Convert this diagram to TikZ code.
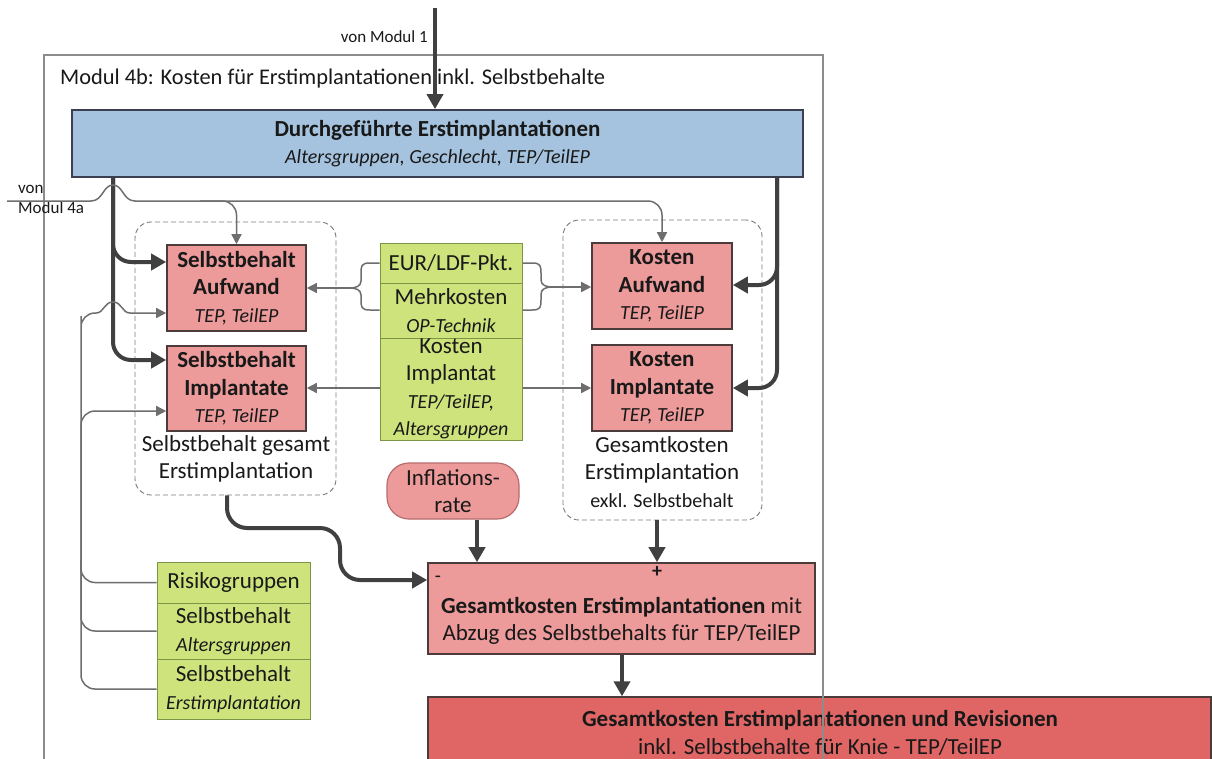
\documentclass[tikz,border=0pt]{standalone}
\usepackage{fontspec}
\setmainfont{Carlito}
\usetikzlibrary{arrows.meta}

\definecolor{boxblue}{HTML}{A5C3DF}
\definecolor{blueedge}{HTML}{3B3F4F}
\definecolor{boxpink}{HTML}{EC9A9A}
\definecolor{pinkedge}{HTML}{4B3B3B}
\definecolor{boxred}{HTML}{E06565}
\definecolor{cellgreen}{HTML}{CFE37C}
\definecolor{greenedge}{HTML}{7C9446}
\definecolor{pilledge}{HTML}{B86C6C}
\definecolor{darkline}{HTML}{404040}
\definecolor{thingray}{HTML}{6E6E6E}
\definecolor{framegray}{HTML}{8C8C8C}
\definecolor{grpgray}{HTML}{7A7A7A}

\newcommand\fsz[2]{\fontsize{#1}{#2}\selectfont}

\begin{document}
\begin{tikzpicture}[x=1pt,y=-1pt,
  every node/.style={inner sep=0pt, text=black!90},
  main/.style={font=\fsz{23}{27.5}, align=center},
  pinkbox/.style={main, draw=pinkedge, line width=1.6pt, fill=boxpink},
  greencell/.style={main, draw=greenedge, line width=1pt, fill=cellgreen},
  grp/.style={draw=grpgray, line width=0.9pt, dash pattern=on 5pt off 3pt, rounded corners=16pt},
  thickarrow/.style={draw=darkline, line width=4pt, -{Triangle[length=15pt,width=16pt]}},
  thinarrow/.style={draw=thingray, line width=1.5pt, -{Triangle[length=10pt,width=10pt]}},
  thinline/.style={draw=thingray, line width=1.5pt}]
\useasboundingbox (0,0) rectangle (1212,758);
\fill[white] (0,0) rectangle (1212,758);

% dashed groups
\node[grp, minimum width=201pt, minimum height=273pt] (grpL) at (235.5,358.5) {};
\node[grp, minimum width=199pt, minimum height=300pt] (grpR) at (662.5,370) {};

% title
\node[anchor=base west, font=\fsz{22.4}{27}] (title) at (60,84)
  {Modul 4b: Kosten für Erstimplantationen inkl. Selbstbehalte};

% input box
\node[main, draw=blueedge, line width=1.8pt, fill=boxblue,
      minimum width=731pt, minimum height=67pt] (durch) at (437.5,143.5)
  {\textbf{Durchgeführte Erstimplantationen}\\{\fsz{20}{27}\itshape Altersgruppen, Geschlecht, TEP/TeilEP}};

% cost components
\node[pinkbox, minimum width=139pt, minimum height=86pt] (sbA) at (236.5,288)
  {\textbf{Selbstbehalt}\\\textbf{Aufwand}\\{\fsz{20}{28}\itshape TEP, TeilEP}};
\node[pinkbox, minimum width=139pt, minimum height=85pt] (sbI) at (236.5,388.5)
  {\textbf{Selbstbehalt}\\\textbf{Implantate}\\{\fsz{20}{28}\itshape TEP, TeilEP}};
\node[pinkbox, minimum width=140pt, minimum height=86pt] (kA) at (662,286)
  {\textbf{Kosten}\\\textbf{Aufwand}\\{\fsz{20}{28}\itshape TEP, TeilEP}};
\node[pinkbox, minimum width=140pt, minimum height=86pt] (kI) at (662,388)
  {\textbf{Kosten}\\\textbf{Implantate}\\{\fsz{20}{28}\itshape TEP, TeilEP}};

% group captions
\node[main] (capL) at (236,459) {Selbstbehalt gesamt\\Erstimplantation};
\node[main] (capR) at (662,472)
  {Gesamtkosten\\Erstimplantation\\{\fsz{20}{26}exkl. Selbstbehalt}};

% price parameters
\node[greencell, minimum width=142pt, minimum height=40pt] (g1) at (451,263) {EUR/LDF-Pkt.};
\node[greencell, minimum width=142pt, minimum height=55pt] (g2) at (451,310.5)
  {Mehrkosten\\{\fsz{20}{28}\itshape OP-Technik}};
\node[greencell, minimum width=142pt, minimum height=102pt] (g3) at (451,389)
  {Kosten\\Implantat\\{\fsz{20}{26}\itshape TEP/TeilEP,}\\{\fsz{20}{26}\itshape Altersgruppen}};

% deductible parameters
\node[greencell, minimum width=153pt, minimum height=41pt] (r1) at (233.5,582.5) {Risikogruppen};
\node[greencell, minimum width=153pt, minimum height=56pt] (r2) at (233.5,631)
  {Selbstbehalt\\{\fsz{20}{28}\itshape Altersgruppen}};
\node[greencell, minimum width=153pt, minimum height=60pt] (r3) at (233.5,689)
  {Selbstbehalt\\{\fsz{20}{28}\itshape Erstimplantation}};

% inflation
\node[main, draw=pilledge, line width=1.2pt, fill=boxpink, rounded corners=22pt,
      minimum width=132pt, minimum height=56pt] (infl) at (453,491) {Inflations-\\rate};

% result boxes
\node[draw=pinkedge, line width=1.6pt, fill=boxpink,
      minimum width=387pt, minimum height=91pt] (gk) at (621.5,608.5) {};
\node[main] (gktxt) at (621.5,621)
  {\textbf{Gesamtkosten Erstimplantationen} mit\\Abzug des Selbstbehalts für TEP/TeilEP};
\node[font=\fsz{20}{24}\bfseries] (plus) at (657,572) {+};
\node[font=\fsz{20}{24}] (minus) at (438,579) {-};

\node[draw=pinkedge, line width=1.4pt, fill=boxred,
      minimum width=783pt, minimum height=90pt] (fin) at (819.5,742) {};
\node[main] (fintxt) at (820,733)
  {\textbf{Gesamtkosten Erstimplantationen und Revisionen}\\inkl. Selbstbehalte für Knie - TEP/TeilEP};

% module frame
\draw[framegray, line width=1.2pt] (44,800) -- (44,55) -- (823,55) -- (823,800);

% external inputs
\coordinate (m1) at (435,8);
\node[anchor=base east, font=\fsz{17}{20}] (lm1) at (428,42) {von Modul 1};
\draw[thickarrow] (m1) -- (durch.north -| m1);

\coordinate (m4a) at (7,201);
\coordinate (j1) at (200,201);
\node[anchor=base west, font=\fsz{17}{20}] (lm4a) at (18,193) {von};
\node[anchor=base west, font=\fsz{17}{20}] (lm4b) at (18,213) {Modul 4a};

% thick flows from the input box
\draw[thickarrow, rounded corners=18pt] (durch.south -| 113,0) |- (sbA.west |- 0,262);
\draw[thickarrow, rounded corners=18pt] (durch.south -| 113,0) |- (sbI.west |- 0,360);
\draw[thickarrow, rounded corners=18pt] (durch.south -| 777,0) |- (kA.east |- 0,285);
\draw[thickarrow, rounded corners=18pt] (durch.south -| 777,0) |- (kI.east |- 0,388);

% line from Modul 4a, hopping over the thick flow
\draw[thinarrow] (m4a) -- (91,201)
  .. controls (103,201) and (103,185) .. (113,185)
  .. controls (123,185) and (123,201) .. (135,201)
  [rounded corners=14pt] -- (662,201) -- (kA.north);
\draw[thinarrow, rounded corners=14pt] (j1) -| (sbA.north);

% price braces
\coordinate (bl) at (350,288);
\coordinate (br) at (552,287);
\draw[thinline] (g1.west) -- (370,263) .. controls (361,263) and (361,266) .. (361,274)
  -- (361,281) .. controls (361,286) and (356,288) .. (bl);
\draw[thinline] (g2.west |- 0,310) -- (370,310) .. controls (361,310) and (361,307) .. (361,299)
  -- (361,295) .. controls (361,290) and (356,288) .. (bl);
\draw[thinarrow] (bl) -- (sbA.east |- bl);
\draw[thinline] (g1.east) -- (532,263) .. controls (541,263) and (541,266) .. (541,274)
  -- (541,280) .. controls (541,285) and (546,287) .. (br);
\draw[thinline] (g2.east |- 0,310) -- (532,310) .. controls (541,310) and (541,307) .. (541,299)
  -- (541,294) .. controls (541,289) and (546,287) .. (br);
\draw[thinarrow] (br) -- (kA.west |- br);
\draw[thinarrow] (g3.west |- 0,388) -- (sbI.east |- 0,388);
\draw[thinarrow] (g3.east |- 0,388) -- (kI.west |- 0,388);

% deductible parameters into the deductible boxes
\draw[thinarrow, rounded corners=14pt] (r3.west) -| (81,470) |- (sbI.west |- 0,411);
\draw[thinline, rounded corners=14pt] (r2.west) -| (81,560);
\draw[thinline, rounded corners=14pt] (r1.west) -| (81,330) |- (96,313);
\draw[thinarrow] (96,313) .. controls (104,313) and (104,302) .. (113,302)
  .. controls (122,302) and (122,313) .. (130,313) -- (sbA.west |- 0,313);

% aggregation
\draw[thickarrow, rounded corners=20pt] (grpL.south -| 227,0) |- (340,528) |- (gk.west |- 0,580);
\draw[thickarrow] (infl.south -| 477,0) -- (gk.north -| 477,0);
\draw[thickarrow] (grpR.south -| 657,0) -- (gk.north -| 657,0);
\draw[thickarrow] (gk.south -| 622,0) -- (fin.north -| 622,0);

% frame edge across the final box
\draw[framegray, line width=1.2pt] (823,697) -- (823,800);
\end{tikzpicture}
\end{document}
